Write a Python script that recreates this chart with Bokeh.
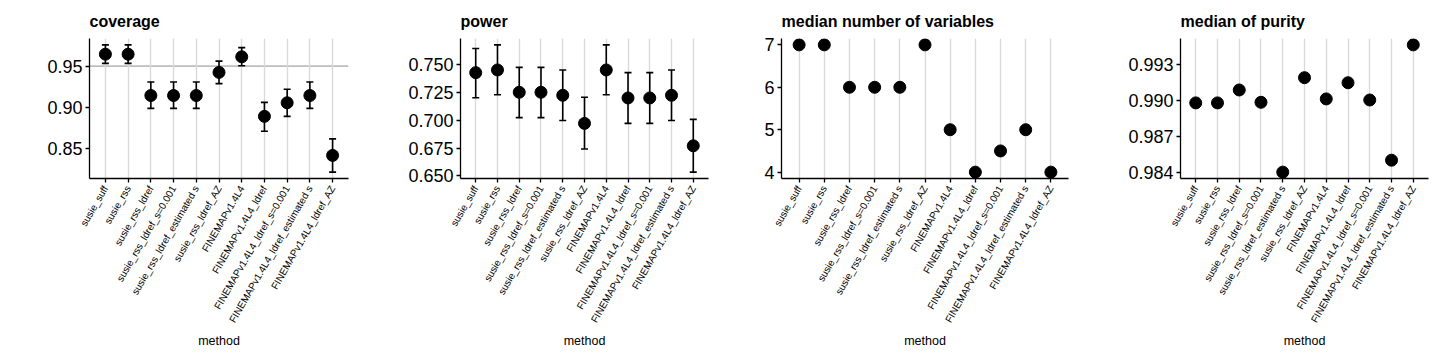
import math
from bokeh.plotting import figure
from bokeh.models import (FactorRange, Range1d, ColumnDataSource, Whisker, TeeHead,
                          FixedTicker, PrintfTickFormatter, Span)
from bokeh.layouts import row
from bokeh.embed import file_html
from bokeh.resources import INLINE

methods = ["susie_suff", "susie_rss", "susie_rss_ldref", "susie_rss_ldref_s=0.001",
           "susie_rss_ldref_estimated s", "susie_rss_ldref_AZ", "FINEMAPv1.4L4",
           "FINEMAPv1.4L4_ldref", "FINEMAPv1.4L4_ldref_s=0.001",
           "FINEMAPv1.4L4_ldref_estimated s", "FINEMAPv1.4L4_ldref_AZ"]

coverage = [0.9645, 0.9645, 0.9143, 0.9143, 0.9143, 0.9424, 0.9613, 0.8890, 0.9055, 0.9143, 0.8416]
coverage_lo = [0.9533, 0.9533, 0.8987, 0.8987, 0.8987, 0.9288, 0.9505, 0.8710, 0.8890, 0.8987, 0.8213]
coverage_hi = [0.9758, 0.9758, 0.9307, 0.9307, 0.9307, 0.9560, 0.9725, 0.9060, 0.9220, 0.9307, 0.8617]

power = [0.7426, 0.7450, 0.7250, 0.7250, 0.7223, 0.6971, 0.7450, 0.7199, 0.7199, 0.7223, 0.6770]
power_lo = [0.7201, 0.7228, 0.7023, 0.7023, 0.6997, 0.6741, 0.7228, 0.6971, 0.6971, 0.6997, 0.6534]
power_hi = [0.7642, 0.7675, 0.7473, 0.7473, 0.7450, 0.7205, 0.7675, 0.7426, 0.7426, 0.7450, 0.7007]

median_nvars = [7, 7, 6, 6, 6, 7, 5, 4, 4.5, 5, 4]

median_purity = [0.98979, 0.98979, 0.99086, 0.98984, 0.98405, 0.99188, 0.99012,
                 0.99146, 0.99003, 0.98504, 0.99460]

coverage_ticks = [0.85, 0.90, 0.95]
power_ticks = [0.650, 0.675, 0.700, 0.725, 0.750]
nvars_ticks = [4, 5, 6, 7]
purity_ticks = [0.984, 0.987, 0.990, 0.993]

FONT = "Liberation Sans"


def make_panel(title, y, lo, hi, ticks, fmt, width, left, right, hline=None):
    lows = lo if lo is not None else y
    highs = hi if hi is not None else y
    ymin, ymax = min(lows), max(highs)
    pad = (ymax - ymin) * 0.05
    p = figure(x_range=FactorRange(factors=methods, range_padding=0.2,
                                   range_padding_units="absolute"),
               y_range=Range1d(ymin - pad, ymax + pad),
               width=width, height=360, output_backend="svg", toolbar_location=None,
               min_border_left=left, min_border_right=right, min_border_top=38,
               min_border_bottom=182, title=title)
    p.title.text_font = FONT
    p.title.text_font_style = "bold"
    p.title.text_font_size = "16px"
    p.title.text_color = "black"
    p.title.align = "left"
    p.title.standoff = 17
    p.outline_line_color = None
    p.background_fill_color = "white"
    p.border_fill_color = "white"
    p.ygrid.grid_line_color = None
    p.xgrid.grid_line_color = "#d9d9d9"
    p.xgrid.grid_line_width = 1.4

    for ax in (p.xaxis[0], p.yaxis[0]):
        ax.axis_line_color = "black"
        ax.axis_line_width = 1.3
        ax.major_tick_line_color = "black"
        ax.major_tick_line_width = 1.3
        ax.major_tick_out = 4
        ax.major_tick_in = 0
        ax.minor_tick_line_color = None
        ax.major_label_text_color = "black"
        ax.major_label_text_font = FONT

    p.yaxis.ticker = FixedTicker(ticks=ticks)
    p.yaxis.formatter = PrintfTickFormatter(format=fmt)
    p.yaxis.major_label_text_font_size = "18px"
    p.yaxis.major_label_standoff = 3

    p.xaxis.major_label_orientation = math.pi / 3
    p.xaxis.major_label_text_font_size = "10px"
    p.xaxis.major_label_standoff = 4
    p.xaxis.axis_label = "method"
    p.xaxis.axis_label_text_font = FONT
    p.xaxis.axis_label_text_font_style = "normal"
    p.xaxis.axis_label_text_font_size = "12.5px"
    p.xaxis.axis_label_text_color = "black"
    p.xaxis.axis_label_standoff = 4

    if hline is not None:
        p.renderers.append(Span(location=hline, dimension="width", line_color="#bebebe",
                                line_width=1.6, level="underlay"))

    data = dict(x=methods, y=y)
    if lo is not None:
        data["lo"] = lo
        data["hi"] = hi
    src = ColumnDataSource(data)
    if lo is not None:
        w = Whisker(base="x", lower="lo", upper="hi", source=src, line_color="black",
                    line_width=1.6,
                    upper_head=TeeHead(size=7, line_color="black", line_width=1.6),
                    lower_head=TeeHead(size=7, line_color="black", line_width=1.6))
        p.add_layout(w)
    p.scatter("x", "y", source=src, size=12, fill_color="black", line_color="black")
    return p


p1 = make_panel("coverage", coverage, coverage_lo, coverage_hi, coverage_ticks, "%.2f",
                360, 89, 12, hline=0.95)
p2 = make_panel("power", power, power_lo, power_hi, power_ticks, "%.3f", 360, 100, 12)
p3 = make_panel("median number of variables", median_nvars, None, None, nvars_ticks, "%d",
                360, 61, 12)
p4 = make_panel("median of purity", median_purity, None, None, purity_ticks, "%.3f",
                360, 100, 12)

layout = row(p1, p2, p3, p4, spacing=0)

with open("out.html", "w") as f:
    f.write(file_html(layout, INLINE))
